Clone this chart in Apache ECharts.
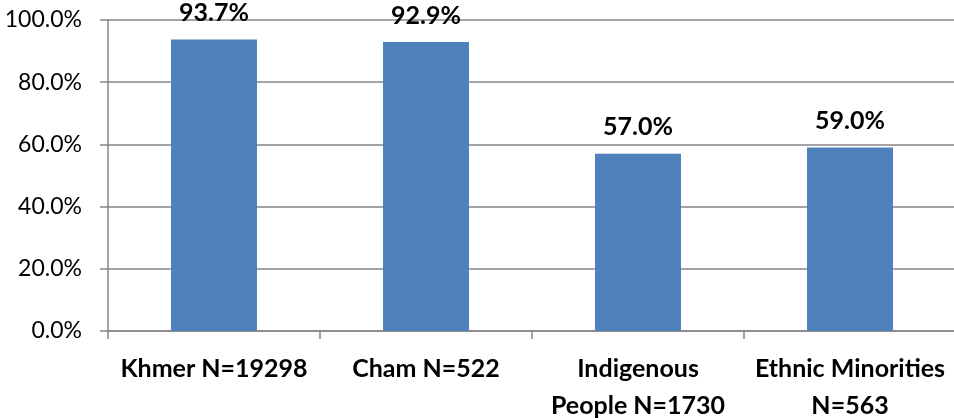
<!DOCTYPE html>
<html>
<head>
<meta charset="utf-8">
<script src="https://cdn.jsdelivr.net/npm/echarts@6/dist/echarts.min.js"></script>
<style>
  html, body { margin: 0; padding: 0; background: #fff; }
  #chart { width: 954px; height: 418px; }
</style>
</head>
<body>
<div id="chart"></div>
<script>
// Share of respondents by ethnic group (percent)
const categories = [
  'Khmer N=19298',
  'Cham N=522',
  'Indigenous\nPeople N=1730',
  'Ethnic Minorities\nN=563'
];
const values = [93.7, 92.9, 57.0, 59.0];
const yTicks = { min: 0, max: 100, interval: 20 };

const FONT = 'Lato, "Open Sans", sans-serif';
const GREY = '#868686';

const chart = echarts.init(document.getElementById('chart'), null, { renderer: 'canvas' });
chart.setOption({
  animation: false,
  backgroundColor: '#ffffff',
  grid: {
    left: 108, top: 20, width: 848, height: 311,
    containLabel: false,
    outerBoundsMode: 'none'
  },
  xAxis: {
    type: 'category',
    data: categories,
    axisLine: { show: true, lineStyle: { color: GREY, width: 1.5 } },
    axisTick: { show: true, length: 8, alignWithLabel: false, lineStyle: { color: GREY, width: 1.5 } },
    axisLabel: {
      interval: 0,
      margin: 19,
      color: '#000',
      fontFamily: FONT,
      fontWeight: 'bold',
      fontSize: 25,
      lineHeight: 37
    }
  },
  yAxis: {
    type: 'value',
    min: yTicks.min,
    max: yTicks.max,
    interval: yTicks.interval,
    axisLine: { show: true, lineStyle: { color: GREY, width: 1.5 } },
    axisTick: { show: true, length: 8, lineStyle: { color: GREY, width: 1.5 } },
    splitLine: { show: true, lineStyle: { color: GREY, width: 1.5 } },
    axisLabel: {
      margin: 26,
      color: '#000',
      fontFamily: FONT,
      fontSize: 23,
      formatter: v => v.toFixed(1) + '%'
    }
  },
  series: [{
    type: 'bar',
    data: values,
    barWidth: 86,
    itemStyle: { color: '#4F81BD' },
    label: {
      show: true,
      position: 'top',
      distance: 14,
      color: '#000',
      fontFamily: FONT,
      fontWeight: 'bold',
      fontSize: 25,
      formatter: p => p.value.toFixed(1) + '%'
    }
  }]
});
</script>
</body>
</html>
